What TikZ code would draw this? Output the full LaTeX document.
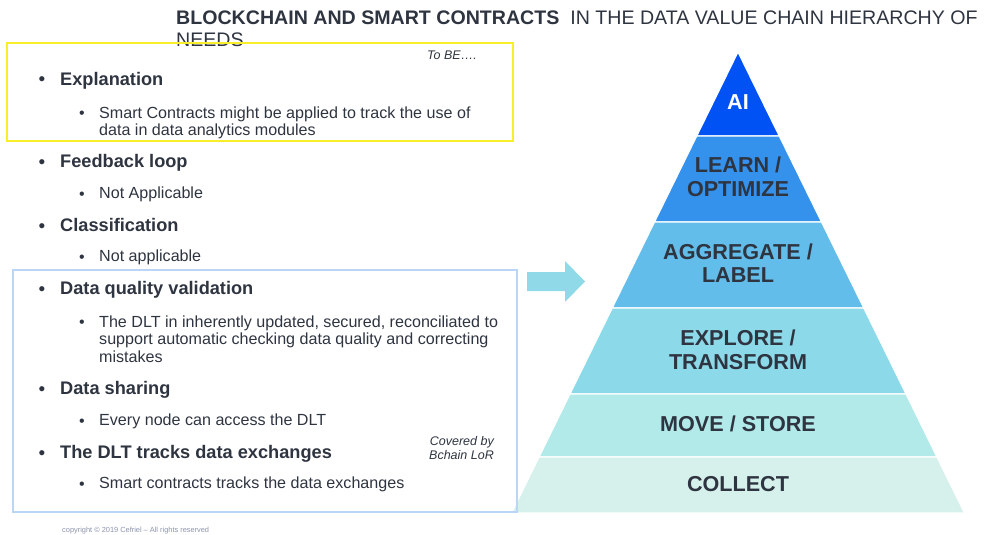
\documentclass[tikz,border=0pt]{standalone}
\usepackage{fontspec}
\setmainfont{Liberation Sans}
\usetikzlibrary{positioning}
\definecolor{ink}{HTML}{2E3440}
\definecolor{lvAI}{HTML}{0052F5}
\definecolor{lvLearn}{HTML}{3592EC}
\definecolor{lvAgg}{HTML}{62BDEA}
\definecolor{lvExpl}{HTML}{8CDAE9}
\definecolor{lvMove}{HTML}{B2EAEA}
\definecolor{lvColl}{HTML}{D6F1EC}
\definecolor{arrcol}{HTML}{8FD9E8}
\definecolor{ylw}{HTML}{F8EE2A}
\definecolor{bxblue}{HTML}{BBD5F7}
\definecolor{foot}{HTML}{8C93AD}

\begin{document}
\begin{tikzpicture}[x=1pt,y=-1pt,
  head/.style={anchor=base west,inner sep=0,text=ink,font=\fontsize{18.2}{21}\selectfont\bfseries},
  sub/.style={anchor=base west,inner sep=0,text=ink,font=\fontsize{16.1}{17.5}\selectfont},
  note/.style={inner sep=0,text=ink,font=\fontsize{12.5}{14}\selectfont\itshape},
  lvl/.style={align=center,inner sep=0,text=ink,font=\fontsize{21.6}{23.5}\selectfont\bfseries}]
  \useasboundingbox (0,0) rectangle (1005,535);

  % title
  \node[anchor=north west,inner sep=0,align=left,text=ink,font=\fontsize{19.6}{22}\selectfont] (title) at (176,11)
    {\textbf{BLOCKCHAIN AND SMART CONTRACTS}\ \ IN THE DATA VALUE CHAIN HIERARCHY OF\\NEEDS};

  % pyramid
  \foreach \ya/\yb/\col in {52/136/lvAI,136/222/lvLearn,222/308/lvAgg,308/394/lvExpl,394/457/lvMove,457/513/lvColl}{
    \pgfmathsetmacro\wa{0.4913*(\ya-52)}
    \pgfmathsetmacro\wb{0.4913*(\yb-52)}
    \filldraw[fill=\col,draw=white,line width=1.2pt] (738-\wa,\ya) -- (738+\wa,\ya) -- (738+\wb,\yb) -- (738-\wb,\yb) -- cycle;
  }
  \node[lvl,text=white] (lAI) at (738,102) {AI};
  \node[lvl] (lLearn) at (738,177) {LEARN /\\OPTIMIZE};
  \node[lvl] (lAgg) at (738,263) {AGGREGATE /\\LABEL};
  \node[lvl] (lExpl) at (738,350) {EXPLORE /\\TRANSFORM};
  \node[lvl] (lMove) at (738,424) {MOVE / STORE};
  \node[lvl] (lColl) at (738,484) {COLLECT};

  % arrow towards the pyramid
  \fill[arrcol] (527,272) -- (565,272) -- (565,261) -- (585,281.5) -- (565,302) -- (565,291) -- (527,291) -- cycle;

  % bullets
  \foreach \yy [count=\i] in {85.5,167.5,231.5,294.5,394.5,458.5}
    \node[anchor=base,inner sep=0,text=ink,font=\fontsize{19}{19}\selectfont] (bt\i) at (42,\yy+0.5) {•};
  \foreach \yy [count=\i] in {117.8,198.8,261.8,326.8,425.8,488.8}
    \node[anchor=base,inner sep=0,text=ink,font=\fontsize{16}{16}\selectfont] (bs\i) at (82,\yy+0.3) {•};

  % left column
  \node[head] (expl) at (60,85.5) {Explanation};
  \node[sub,anchor=north west,align=left] (explTxt) at (99,106.2)
    {Smart Contracts might be applied to track the use of\\data in data analytics modules};
  \node[head] (fbk) at (60,167.5) {Feedback loop};
  \node[sub] (fbkTxt) at (99,198.8) {Not Applicable};
  \node[head] (cls) at (60,231.5) {Classification};
  \node[sub] (clsTxt) at (99,261.8) {Not applicable};
  \node[head] (dqv) at (60,294.5) {Data quality validation};
  \node[sub,anchor=north west,align=left] (dqvTxt) at (99,315.2)
    {The DLT in inherently updated, secured, reconciliated to\\support automatic checking data quality and correcting\\mistakes};
  \node[head] (shr) at (60,394.5) {Data sharing};
  \node[sub] (shrTxt) at (99,425.8) {Every node can access the DLT};
  \node[head] (dlt) at (60,458.5) {The DLT tracks data exchanges};
  \node[sub] (dltTxt) at (99,488.8) {Smart contracts tracks the data exchanges};

  \node[note,anchor=base east] (toBe) at (477,59.5) {To BE….};
  \node[note,anchor=north east,align=right] (cov) at (494,436.5) {Covered by\\Bchain LoR};

  % frames
  \draw[ylw,line width=1.6pt] (7,43) rectangle (513,141);
  \draw[bxblue,line width=1.2pt] (13,270) rectangle (517,512);

  \node[anchor=base west,inner sep=0,text=foot,font=\fontsize{7.4}{8}\selectfont] (copy) at (62,532.5)
    {copyright © 2019 Cefriel – All rights reserved};
\end{tikzpicture}
\end{document}
